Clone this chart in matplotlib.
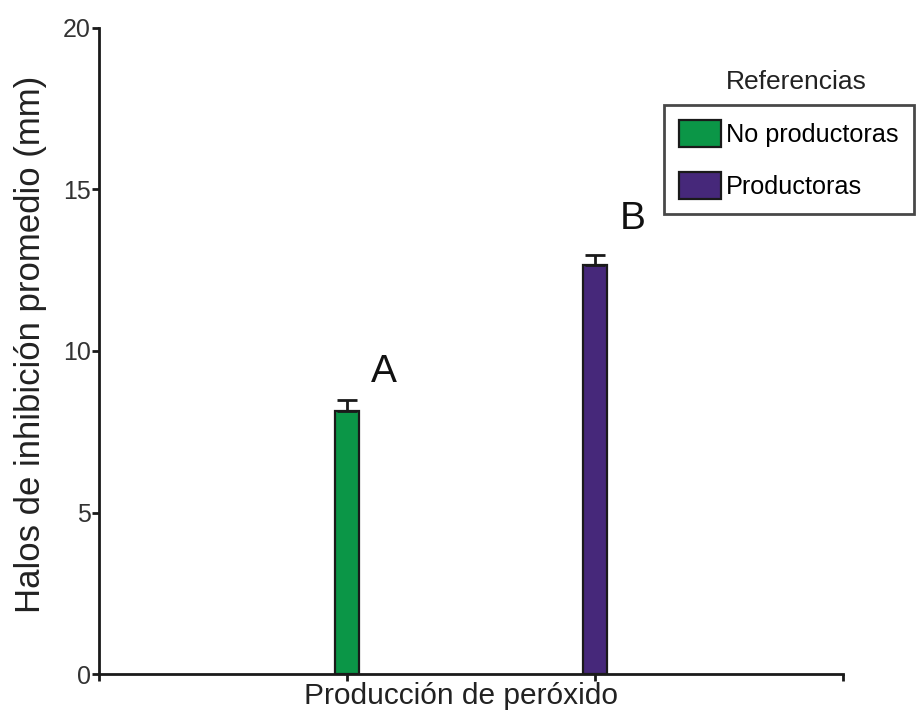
import numpy as np
import matplotlib.pyplot as plt
from matplotlib.patches import Patch

plt.rcParams['font.family'] = ['Liberation Sans', 'DejaVu Sans']

grupos = ["No productoras", "Productoras"]
halos = [8.15, 12.65]
error = [0.33, 0.32]
letras = ["A", "B"]
colores = ["#0b9647", "#46287a"]
yticks = [0, 5, 10, 15, 20]

fig = plt.figure(figsize=(9.2, 7.13), dpi=100)
ax = fig.add_axes([99/920, 1 - 674/713, (843 - 99)/920, (674 - 28)/713])

x = np.arange(len(grupos))
ax.bar(x, halos, width=0.093, color=colores, edgecolor="#1a1a1a", linewidth=1.6, zorder=2)
ax.errorbar(x, halos, yerr=[[0, 0], error], fmt="none", ecolor="#1a1a1a",
            elinewidth=2, capsize=7, capthick=2, zorder=3)

for xi, h, e, l in zip(x, halos, error, letras):
    ax.text(xi + 0.15, h + e + 0.3 + 0.25 * xi, l, fontsize=28, ha="center", va="bottom",
            color="#111111")

ax.set_xlim(-1, 2)
ax.set_ylim(0, 20)
ax.set_xticks([-1, 0, 1, 2])
ax.set_xticklabels([])
ax.set_yticks(yticks)
ax.set_yticklabels([str(t) for t in yticks], fontsize=18, color="#333333")
ax.tick_params(axis="both", length=5, width=2, pad=1, color="#1a1a1a")

for s in ["top", "right"]:
    ax.spines[s].set_visible(False)
for s in ["left", "bottom"]:
    ax.spines[s].set_linewidth(2)
    ax.spines[s].set_color("#1a1a1a")

ax.set_xlabel("Producción de peróxido", fontsize=21.5, color="#222222")
ax.xaxis.set_label_coords(0.487, -0.013)
ax.xaxis.label.set_va("top")
ax.set_ylabel("Halos de inhibición promedio (mm)", fontsize=25, color="#222222")
ax.yaxis.set_label_coords(-0.07, 0.51)

handles = [Patch(facecolor=c, edgecolor="#1a1a1a", linewidth=1.6) for c in colores]
leg = fig.legend(handles, grupos, loc="upper left", bbox_to_anchor=(664/920, 1 - 105/713),
                 fontsize=18.2, frameon=True, fancybox=False, handlelength=1.65,
                 handleheight=1.25, handletextpad=0.2, borderpad=0.6, labelspacing=1.0,
                 borderaxespad=0)
leg.get_frame().set_edgecolor("#1a1a1a")
leg.get_frame().set_linewidth(2)
fig.text(796/920, 1 - 82/713, "Referencias", fontsize=19, ha="center", va="center", color="#222222")

fig.savefig("out.png", dpi=100)
